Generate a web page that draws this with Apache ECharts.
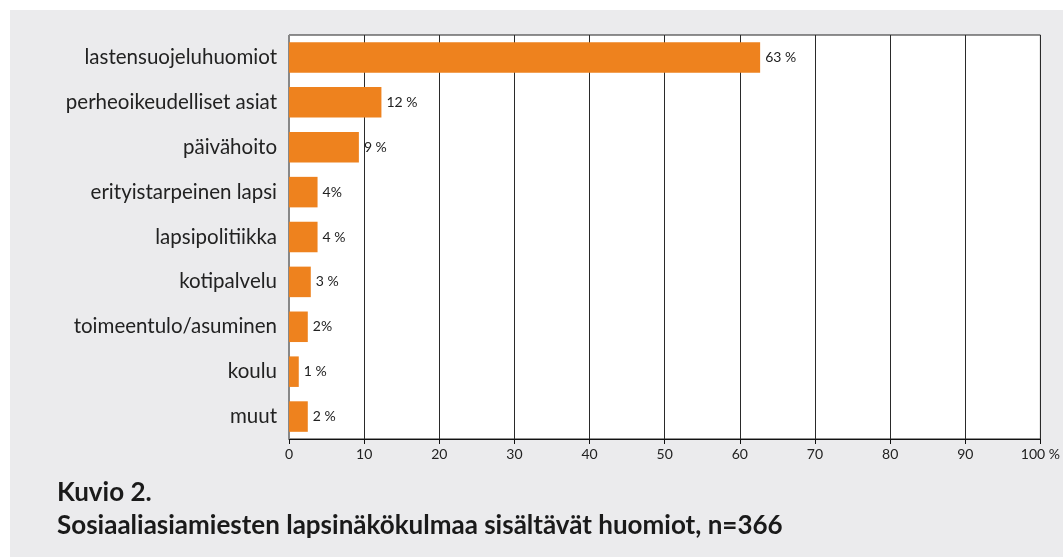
<!DOCTYPE html>
<html>
<head>
<meta charset="utf-8">
<script src="https://cdn.jsdelivr.net/npm/echarts@6/dist/echarts.min.js"></script>
<style>
    html, body { margin: 0; padding: 0; background: #fff; }
    #chart { width: 1063px; height: 557px; }
</style>
</head>
<body>
<div id="chart"></div>
<script>
// aiheet ja osuudet (%)
const categories = [
    'lastensuojeluhuomiot',
    'perheoikeudelliset asiat',
    'päivähoito',
    'erityistarpeinen lapsi',
    'lapsipolitiikka',
    'kotipalvelu',
    'toimeentulo/asuminen',
    'koulu',
    'muut'
];
const shares = [62.7, 12.3, 9.3, 3.8, 3.8, 2.9, 2.5, 1.3, 2.5];
const shareLabels = ['63 %', '12 %', '9 %', '4%', '4 %', '3 %', '2%', '1 %', '2 %'];

const fontName = 'Lato, "Open Sans", sans-serif';
const barColor = '#ee821e';

var chart = echarts.init(document.getElementById('chart'));
var option = {
    animation: false,
    backgroundColor: '#fff',
    graphic: [{
        type: 'rect',
        z: -10,
        shape: { x: 10, y: 10, width: 1063, height: 557 },
        style: { fill: '#ebebed' }
    }, {
        type: 'text',
        left: 57,
        top: 480,
        style: {
            text: 'Kuvio 2.',
            font: 'bold 26px ' + fontName,
            fill: '#1a1a1a'
        }
    }, {
        type: 'text',
        left: 57,
        top: 513,
        style: {
            text: 'Sosiaaliasiamiesten lapsinäkökulmaa sisältävät huomiot, n=366',
            font: 'bold 26px ' + fontName,
            fill: '#1a1a1a'
        }
    }],
    grid: {
        left: 289,
        right: 19,
        top: 35,
        bottom: 118,
        show: true,
        backgroundColor: '#fff',
        borderColor: '#222',
        borderWidth: 1
    },
    xAxis: {
        type: 'value',
        min: 0,
        max: 100,
        interval: 10,
        axisLine: { show: true, lineStyle: { color: '#111', width: 1 } },
        axisTick: { show: true, length: 5, lineStyle: { color: '#111' } },
        splitLine: { show: true, lineStyle: { color: '#2a2a2a', width: 1 } },
        axisLabel: {
            margin: 8,
            fontFamily: fontName,
            fontSize: 14,
            color: '#222',
            formatter: function (value) {
                return value === 100 ? '100 %' : String(value);
            }
        }
    },
    yAxis: {
        type: 'category',
        inverse: true,
        data: categories,
        axisLine: { show: true, lineStyle: { color: '#888' } },
        axisTick: { show: false },
        axisLabel: {
            margin: 12,
            fontFamily: fontName,
            fontSize: 20.5,
            color: '#222'
        }
    },
    series: [{
        type: 'bar',
        data: shares,
        barCategoryGap: '32%',
        itemStyle: { color: barColor },
        label: {
            show: true,
            position: 'right',
            distance: 5,
            fontFamily: fontName,
            fontSize: 14,
            color: '#222',
            formatter: function (p) {
                return shareLabels[p.dataIndex];
            }
        }
    }]
};
chart.setOption(option);
</script>
</body>
</html>
